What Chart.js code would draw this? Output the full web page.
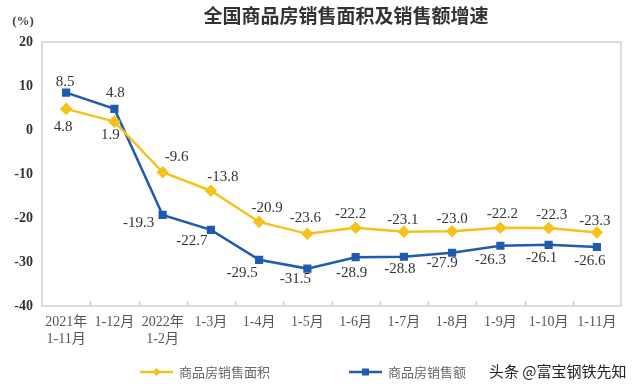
<!DOCTYPE html>
<html>
<head>
<meta charset="utf-8">
<script src="https://cdn.jsdelivr.net/npm/chart.js@4/dist/chart.umd.min.js"></script>
<style>
  html, body { margin: 0; padding: 0; background: #fff; }
  #wrap { width: 640px; height: 388px; position: relative; }
</style>
</head>
<body>
<div id="wrap"><canvas id="chart1" width="640" height="388"></canvas></div>
<script>
// chart data
const months = [['2021年', '1-11月'], '1-12月', ['2022年', '1-2月'], '1-3月', '1-4月', '1-5月', '1-6月', '1-7月', '1-8月', '1-9月', '1-10月', '1-11月']
const areaGrowth = [4.8, 1.9, -9.6, -13.8, -20.9, -23.6, -22.2, -23.1, -23.0, -22.2, -22.3, -23.3]
const salesGrowth = [8.5, 4.8, -19.3, -22.7, -29.5, -31.5, -28.9, -28.8, -27.9, -26.3, -26.1, -26.6]
const seriesNames = ['商品房销售面积', '商品房销售额']
const yTicks = [20, 10, 0, -10, -20, -30, -40]

const chartTitle = '全国商品房销售面积及销售额增速'
const unitLabel = '(%)'
const watermark = '头条 @富宝钢铁先知'

const yellow = '#F5C21B'
const blue = '#1F5BAE'

// where each value label sits relative to its point
const labelOffsets = [
    [[-3, 18], [-4, 13], [14, -15], [12, -14], [8, -14], [-2, -16], [-5, -14], [-1, -12], [0, -12], [2, -14], [3, -13], [-2, -11]],
    [[-1, -11], [1, -16], [-24, 8], [-19, 11], [-17, 13], [-12, 10], [-4, 16], [-4, 12], [-10, 10], [-10, 14], [-7, 13], [-7, 14]]
]

const serif = '"Liberation Serif", "Times New Roman", "Noto Sans CJK SC", serif'
const cjk = '"Noto Sans CJK SC", sans-serif'

const decorPlugin = {
    id: 'decor',
    afterDraw(chart) {
        const ctx = chart.ctx
        const area = chart.chartArea
        const x = chart.scales.x
        ctx.save()

        // frame round plot area
        ctx.strokeStyle = '#cfcfcf'
        ctx.lineWidth = 1.5
        ctx.strokeRect(area.left, area.top, area.right - area.left, area.bottom - area.top)

        // inward tick marks between categories
        const step = (area.right - area.left) / months.length
        ctx.beginPath()
        for (let i = 1; i < months.length; i++) {
            const px = Math.round(area.left + step * i) + 0.5
            ctx.moveTo(px, area.bottom)
            ctx.lineTo(px, area.bottom - 5)
        }
        ctx.stroke()

        // value labels
        ctx.fillStyle = '#333'
        ctx.font = '15px ' + serif
        ctx.textAlign = 'center'
        ctx.textBaseline = 'middle'
        chart.data.datasets.forEach((ds, d) => {
            const meta = chart.getDatasetMeta(d)
            meta.data.forEach((pt, i) => {
                const off = labelOffsets[d][i]
                ctx.fillText(ds.data[i].toFixed(1), pt.x + off[0], pt.y + off[1])
            })
        })

        // title and unit
        ctx.fillStyle = '#333'
        ctx.font = 'bold 19px ' + cjk
        ctx.fillText(chartTitle, 346, 16)
        ctx.font = 'bold 13px ' + serif
        ctx.fillStyle = '#444'
        ctx.fillText(unitLabel, 23, 22)

        // legend
        const legendX = [140, 349]
        const legendY = 372
        chart.data.datasets.forEach((ds, d) => {
            const lx = legendX[d]
            ctx.strokeStyle = ds.borderColor
            ctx.lineWidth = 2.5
            ctx.beginPath()
            ctx.moveTo(lx, legendY)
            ctx.lineTo(lx + 33, legendY)
            ctx.stroke()
            ctx.fillStyle = ds.borderColor
            ctx.beginPath()
            if (d === 0) {
                ctx.moveTo(lx + 16.5, legendY - 4)
                ctx.lineTo(lx + 20.5, legendY)
                ctx.lineTo(lx + 16.5, legendY + 4)
                ctx.lineTo(lx + 12.5, legendY)
                ctx.closePath()
                ctx.fill()
            } else {
                ctx.fillRect(lx + 13, legendY - 3.5, 7, 7)
            }
            ctx.fillStyle = '#666'
            ctx.font = '13px ' + cjk
            ctx.textAlign = 'left'
            ctx.fillText(ds.label, lx + 39, legendY)
        })

        // watermark
        ctx.fillStyle = '#222'
        ctx.font = '15px ' + cjk
        ctx.textAlign = 'left'
        ctx.fillText(watermark, 489, 371)

        ctx.restore()
    }
}

const ctx = document.getElementById('chart1').getContext('2d')

new Chart(ctx, {
    type: 'line',
    data: {
        labels: months,
        datasets: [
            {
                label: seriesNames[0],
                data: areaGrowth,
                borderColor: yellow,
                backgroundColor: yellow,
                borderWidth: 2.5,
                pointStyle: 'rectRot',
                pointRadius: 4.5,
                pointHoverRadius: 4.5,
                fill: false,
                tension: 0
            },
            {
                label: seriesNames[1],
                data: salesGrowth,
                borderColor: blue,
                backgroundColor: blue,
                borderWidth: 2.5,
                pointStyle: 'rect',
                pointRadius: 4,
                pointHoverRadius: 4,
                fill: false,
                tension: 0
            }
        ]
    },
    options: {
        responsive: false,
        animation: false,
        layout: { padding: { top: 42, right: 19, bottom: 0, left: 0 } },
        plugins: {
            legend: { display: false },
            title: { display: false },
            tooltip: { enabled: false }
        },
        scales: {
            x: {
                offset: true,
                grid: { display: false, drawTicks: false, offset: true },
                border: { display: false },
                ticks: {
                    color: '#555',
                    font: { family: serif, size: 14 },
                    padding: 8,
                    maxRotation: 0,
                    autoSkip: false
                },
                afterFit(scale) { scale.height = 82 }
            },
            y: {
                min: -40,
                max: 20,
                afterBuildTicks(scale) { scale.ticks = yTicks.map(v => ({ value: v })) },
                grid: { display: false, drawTicks: false },
                border: { display: false },
                ticks: {
                    color: '#333',
                    font: { family: serif, size: 14, weight: 'bold' },
                    padding: 9
                },
                afterFit(scale) { scale.width = 42 }
            }
        }
    },
    plugins: [decorPlugin]
})
</script>
</body>
</html>
